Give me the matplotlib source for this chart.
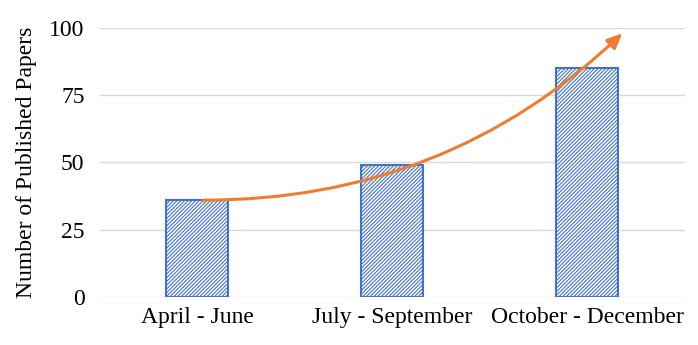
import matplotlib.pyplot as plt
import matplotlib as mpl

# 데이터
periods = ['April - June', 'July - September', 'October - December']
papers = [36, 49, 85]

plt.rcParams['font.family'] = ['Liberation Serif', 'DejaVu Serif']
mpl.rcParams['hatch.linewidth'] = 0.8
mpl.rcParams['hatch.color'] = '#4472C4'

fig = plt.figure(figsize=(6.98, 3.45), dpi=100)
ax = fig.add_axes([0.143, 0.139, 0.838, 0.78])

x = range(len(periods))
ax.bar(x, papers, width=0.32, color='white', edgecolor='#4472C4',
       hatch='/////////', linewidth=1.5, zorder=3)

ax.set_xlim(-0.5, 2.5)
ax.set_ylim(0, 100)
ax.set_yticks([0, 25, 50, 75, 100])
ax.set_xticks(list(x))
ax.set_xticklabels(periods)
ax.tick_params(length=0, labelsize=17, pad=7)
ax.tick_params(axis='y', pad=11)
ax.grid(axis='y', color='#D9D9D9', linewidth=1, zorder=0)
for s in ax.spines.values():
    s.set_visible(False)
ax.set_ylabel('Number of Published Papers', fontsize=17, labelpad=9)

# 증가 추세 화살표
ax.annotate('', xy=(2.18, 98), xytext=(0.03, 36),
            arrowprops=dict(arrowstyle='-|>,head_length=0.9,head_width=0.4',
                            color='#ED7D31', lw=2.2,
                            connectionstyle='arc3,rad=0.2',
                            shrinkA=0, shrinkB=0),
            zorder=4)

fig.savefig('out.png', dpi=100)
